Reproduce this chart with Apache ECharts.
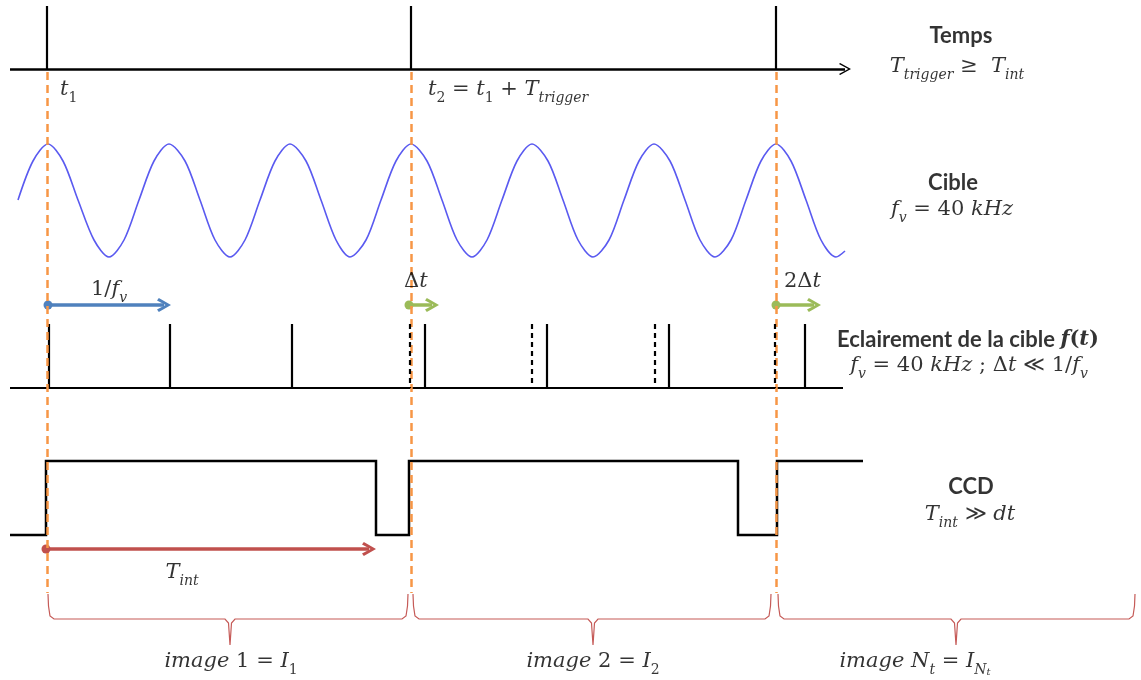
<!DOCTYPE html>
<html>
<head>
<meta charset="utf-8">
<script src="https://cdn.jsdelivr.net/npm/echarts@6/dist/echarts.min.js"></script>
<style>
html, body { margin: 0; padding: 0; background: #fff; }
#chart { width: 1141px; height: 680px; }
</style>
</head>
<body>
<div id="chart"></div>
<script>
// diagram units = picture pixels (x to the right, y downwards)
var triggerX = [47, 411, 776];
var timeAxis = [[10, 69], [845, 69]];
var triggerTop = 6;
var guideTop = 72, guideBottom = 593;

// target: read peaks / troughs / crossings and in-between points off the picture
var sine = [[18, 200], [33, 161], [48, 144], [63, 161], [78, 200], [94, 240], [109, 257], [124, 240],
    [139, 200], [154, 161], [169, 144], [185, 161], [200, 200], [215, 240], [230, 257], [245, 240],
    [260, 200], [275, 161], [290, 144], [306, 161], [321, 200], [336, 240], [350, 257], [366, 240],
    [381, 200], [396, 161], [411, 144], [427, 161], [442, 200], [457, 240], [472, 257], [487, 240],
    [502, 200], [517, 161], [532, 144], [548, 161], [563, 200], [578, 240], [593, 257], [609, 240],
    [624, 200], [639, 161], [654, 144], [670, 161], [685, 200], [700, 240], [715, 257], [731, 240],
    [746, 200], [761, 161], [776, 144], [791, 161], [806, 200], [821, 240], [836, 257], [845, 251]];

// illumination pulses
var pulseX = [49, 170, 292, 425, 547, 669, 805];
var ghostX = [410, 532, 655, 775];
var pulseTop = 324, pulseBase = 388;
var pulseAxis = [[10, 388], [843, 388]];

// CCD integration signal
var ccdX = [10, 46, 46, 376, 376, 409, 409, 738, 738, 777, 777, 863];
var ccdY = [535, 535, 461, 461, 535, 535, 461, 461, 535, 535, 461, 461];

// arrows [x0, x1, y]
var blueArrow = [48, 164, 305];
var greenArrows = [[409, 432, 305], [776, 814, 305]];
var redArrow = [46, 369, 549];

// braces [left, tip, right]
var braces = [[48, 230, 408], [413, 593, 771], [778, 956, 1135]];
var braceTop = 594, braceMid = 619, braceTip = 645;

// texts [x, y, rich text, align]
var texts = [
    [961, 38, '{b|Temps}', 'center'],
    [957, 69, '{i|T}{s|trigger}{r| ≥  }{i|T}{s|int}', 'center'],
    [953, 185, '{b|Cible}', 'center'],
    [952, 212, '{i|f}{s|v}{r| = 40 }{i|kHz}', 'center'],
    [968, 342, '{b|Eclairement de la cible }{bi|f}{br|(}{bi|t}{br|)}', 'center'],
    [969, 368, '{i|f}{s|v}{r| = 40 }{i|kHz}{r| ; Δ}{i|t}{r| ≪ 1/}{i|f}{s|v}', 'center'],
    [971, 489, '{b|CCD}', 'center'],
    [970, 517, '{i|T}{s|int}{r| ≫ }{i|dt}', 'center'],
    [60, 92, '{i|t}{sr|1}', 'left'],
    [428, 92, '{i|t}{sr|2}{r| = }{i|t}{sr|1}{r| + }{i|T}{s|trigger}', 'left'],
    [91, 292, '{r|1/}{i|f}{s|v}', 'left'],
    [404, 284, '{r|Δ}{i|t}', 'left'],
    [784, 284, '{r|2Δ}{i|t}', 'left'],
    [182, 575, '{i|T}{s|int}', 'center'],
    [231, 664, '{i|image }{r|1 = }{i|I}{sr|1}', 'center'],
    [593, 664, '{i|image }{r|2 = }{i|I}{sr|2}', 'center'],
    [915, 664, '{i|image N}{s|t}{r| = }{i|I}{s|N}{ss|t}', 'center']
];

var serif = 'DejaVu Serif';
var rich = {
    i: { fontFamily: serif, fontStyle: 'italic', fontSize: 21, lineHeight: 26, verticalAlign: 'top', color: '#000' },
    r: { fontFamily: serif, fontSize: 21, lineHeight: 26, verticalAlign: 'top', color: '#000' },
    s: { fontFamily: serif, fontStyle: 'italic', fontSize: 14, lineHeight: 16, verticalAlign: 'bottom', color: '#000' },
    sr: { fontFamily: serif, fontSize: 14, lineHeight: 16, verticalAlign: 'bottom', color: '#000' },
    ss: { fontFamily: serif, fontStyle: 'italic', fontSize: 10, lineHeight: 6, verticalAlign: 'bottom', color: '#000' },
    b: { fontFamily: 'Lato', fontWeight: 'bold', fontSize: 22, lineHeight: 26, verticalAlign: 'top', color: '#000' },
    bi: { fontFamily: serif, fontStyle: 'italic', fontWeight: 'bold', fontSize: 21, lineHeight: 26, verticalAlign: 'top', color: '#000' },
    br: { fontFamily: serif, fontWeight: 'bold', fontSize: 21, lineHeight: 26, verticalAlign: 'top', color: '#000' }
};

function vSeg(xs, y0, y1) {
    return xs.map(function (x) { return { coords: [[x, y0], [x, y1]] }; });
}
function arrow(a) {
    return { coords: [[a[0], a[2]], [a[1], a[2]]] };
}
function bracePts(b) {
    var a = b[0], c = b[1], e = b[2];
    return [[a, braceTop], [a + 0.5, braceTop + 12], [a + 2, braceMid - 3], [a + 6, braceMid],
        [c - 5, braceMid], [c - 1.5, braceMid + 4], [c, braceTip], [c + 1.5, braceMid + 4], [c + 5, braceMid],
        [e - 6, braceMid], [e - 2, braceMid - 3], [e - 0.5, braceTop + 12], [e, braceTop]];
}

var chevron = 'path://M5,0 L10,8 L8.2,9.2 L5,3.6 L1.8,9.2 L0,8 Z';
var thinChevron = 'path://M5,0 L10,8 L9.2,8.8 L5,2 L0.8,8.8 L0,8 Z';

function arrowSeries(data, color) {
    return {
        type: 'lines', coordinateSystem: 'cartesian2d', silent: true, z: 4,
        symbol: ['circle', chevron], symbolSize: [9, 14],
        lineStyle: { color: color, width: 3.5, opacity: 1 },
        data: data
    };
}

var option = {
    animation: false,
    grid: { left: 0, right: 0, top: 0, bottom: 0 },
    xAxis: { type: 'value', min: 0, max: 1141, show: false },
    yAxis: { type: 'value', min: 0, max: 680, inverse: true, show: false },
    series: [
        {   // time axis with arrow
            type: 'lines', coordinateSystem: 'cartesian2d', silent: true,
            symbol: ['none', thinChevron], symbolSize: [0, 12],
            lineStyle: { color: '#000', width: 2.5, opacity: 1 },
            data: [{ coords: timeAxis }]
        },
        {   // triggers + pulses + axes
            type: 'lines', coordinateSystem: 'cartesian2d', silent: true,
            lineStyle: { color: '#000', width: 2.2, opacity: 1 },
            data: vSeg(triggerX, triggerTop, timeAxis[0][1])
                .concat(vSeg(pulseX, pulseTop, pulseBase))
                .concat([{ coords: pulseAxis }])
        },
        {   // shifted pulse ghosts
            type: 'lines', coordinateSystem: 'cartesian2d', silent: true, z: 6,
            lineStyle: { color: '#000', width: 2.2, opacity: 1, type: [5, 4] },
            data: vSeg(ghostX, pulseTop, pulseBase)
        },
        {
            type: 'lines', coordinateSystem: 'cartesian2d', polyline: true, silent: true,
            lineStyle: { color: '#000', width: 2.5, opacity: 1, join: 'miter' },
            data: [{ coords: ccdX.map(function (x, k) { return [x, ccdY[k]]; }) }]
        },
        {
            type: 'line', data: sine, smooth: 0.3, showSymbol: false, silent: true,
            lineStyle: { color: '#5a5af0', width: 1.6 }
        },
        {
            type: 'lines', coordinateSystem: 'cartesian2d', polyline: true, silent: true,
            lineStyle: { color: '#c55a57', width: 1.2, opacity: 1 },
            data: braces.map(function (b) { return { coords: bracePts(b) }; })
        },
        arrowSeries([arrow(blueArrow)], '#4f81bd'),
        arrowSeries(greenArrows.map(arrow), '#9bbb59'),
        arrowSeries([arrow(redArrow)], '#c0504d'),
        {   // guides
            type: 'lines', coordinateSystem: 'cartesian2d', silent: true, z: 5,
            lineStyle: { color: '#f79646', width: 2.5, opacity: 1, type: [8, 5] },
            data: vSeg(triggerX, guideTop, guideBottom)
        },
        {
            type: 'scatter', symbolSize: 0, silent: true, z: 7,
            data: texts.map(function (t) {
                return {
                    value: [t[0], t[1]],
                    label: { show: true, position: 'inside', align: t[3], verticalAlign: 'middle', formatter: t[2], rich: rich }
                };
            })
        }
    ]
};

var myChart = echarts.init(document.getElementById('chart'));
myChart.setOption(option);
</script>
</body>
</html>
